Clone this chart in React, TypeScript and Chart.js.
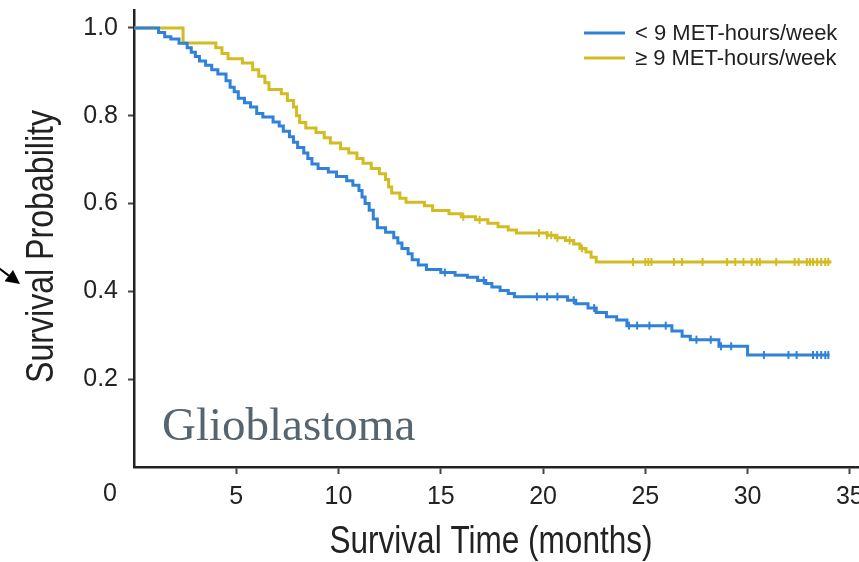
import React, { useEffect, useRef } from 'react';
import { Chart, registerables } from 'chart.js';

Chart.register(...registerables);

// ---- data ----
const xTicks = [0, 5, 10, 15, 20, 25, 30, 35];
const yTicks = [0.2, 0.4, 0.6, 0.8, 1.0];
const seriesLabels = ['< 9 MET-hours/week', '\u2265 9 MET-hours/week'];
const xTitle = 'Survival Time (months)';
const yTitle = 'Survival Probability';
const panelLabel = 'Glioblastoma';

// < 9 MET-hours/week (blue): event times (months) and survival after each step
const lowTimes = [0, 1.2, 1.5, 1.8, 2.2, 2.6, 2.8, 3.0, 3.2, 3.5, 3.8, 4.1, 4.5, 4.7, 4.9, 5.1, 5.4, 5.7, 6.0, 6.3, 6.8, 7.1, 7.3, 7.6, 7.8, 8.0, 8.3, 8.5, 8.7, 9.0, 9.5, 9.9, 10.4, 10.7, 11.0, 11.15, 11.3, 11.5, 11.7, 11.9, 12.3, 12.7, 12.9, 13.1, 13.4, 13.6, 13.9, 14.3, 15.0, 15.7, 16.3, 16.8, 17.2, 17.5, 17.9, 18.3, 18.6, 21.2, 21.6, 22.2, 22.6, 23.1, 23.6, 24.1, 26.3, 26.8, 27.2, 28.6, 30.0, 34.0];
const lowSurv = [1.0, 0.99, 0.98, 0.975, 0.965, 0.955, 0.945, 0.935, 0.925, 0.915, 0.905, 0.895, 0.88, 0.865, 0.855, 0.84, 0.83, 0.82, 0.805, 0.797, 0.786, 0.777, 0.765, 0.752, 0.74, 0.728, 0.715, 0.703, 0.69, 0.68, 0.672, 0.662, 0.652, 0.642, 0.63, 0.615, 0.6, 0.585, 0.565, 0.545, 0.535, 0.522, 0.51, 0.498, 0.486, 0.472, 0.46, 0.45, 0.443, 0.437, 0.432, 0.425, 0.418, 0.41, 0.402, 0.395, 0.388, 0.38, 0.372, 0.362, 0.352, 0.342, 0.335, 0.322, 0.31, 0.298, 0.29, 0.275, 0.255, 0.255];
const lowCensor = [15.2, 17.1, 19.7, 20.2, 20.7, 21.5, 22.5, 24.2, 24.6, 25.2, 26.0, 27.5, 28.2, 28.7, 29.2, 30.8, 32.0, 32.4, 33.2, 33.4, 33.6, 33.8, 33.95];

// >= 9 MET-hours/week (gold)
const highTimes = [0, 2.4, 4.0, 4.3, 4.6, 5.3, 5.8, 6.1, 6.4, 6.6, 7.2, 7.5, 7.8, 7.95, 8.1, 8.4, 8.9, 9.3, 9.6, 10.1, 10.5, 10.9, 11.2, 11.6, 12.0, 12.3, 12.45, 12.6, 13.0, 13.3, 14.2, 14.6, 15.4, 16.0, 16.7, 17.3, 17.8, 18.3, 18.7, 20.2, 20.6, 21.1, 21.5, 21.8, 22.1, 22.35, 22.6, 34.1];
const highSurv = [1.0, 0.966, 0.955, 0.942, 0.93, 0.92, 0.905, 0.89, 0.875, 0.86, 0.85, 0.835, 0.82, 0.8, 0.785, 0.772, 0.762, 0.75, 0.738, 0.725, 0.715, 0.703, 0.692, 0.68, 0.668, 0.655, 0.638, 0.624, 0.612, 0.603, 0.595, 0.584, 0.577, 0.57, 0.563, 0.555, 0.547, 0.54, 0.533, 0.528, 0.522, 0.516, 0.508, 0.498, 0.49, 0.478, 0.467, 0.467];
const highCensor = [16.1, 16.9, 19.8, 20.2, 20.4, 20.7, 21.3, 21.9, 24.4, 25.0, 25.15, 25.3, 26.4, 26.8, 27.8, 29.0, 29.4, 29.8, 30.2, 30.45, 30.6, 31.4, 32.3, 32.5, 32.9, 33.05, 33.2, 33.4, 33.6, 33.8, 33.95];

const BLUE = '#2f82d8';
const GOLD = '#d2bc22';
const INK = '#222222';
const SANS = '"Liberation Sans", Arial, sans-serif';
const TITLE_SIZE = 38;
const TITLE_SQUEEZE = 0.83; // narrow (condensed) axis-title lettering

function survAt(times: number[], surv: number[], t: number): number {
  let v = surv[0];
  for (let i = 0; i < times.length; i++) {
    if (times[i] <= t) v = surv[i];
  }
  return v;
}

const zeroPadding = (s: any) => {
  s.paddingTop = 0;
  s.paddingBottom = 0;
  s.paddingLeft = 0;
  s.paddingRight = 0;
};

const annotations = {
  id: 'annotations',
  afterDraw(chart: any) {
    const { ctx, chartArea, scales } = chart;
    const xs = scales.x;
    ctx.save();

    // axis titles in condensed lettering
    ctx.fillStyle = INK;
    ctx.font = `${TITLE_SIZE}px ${SANS}`;
    ctx.textAlign = 'center';
    ctx.textBaseline = 'middle';
    ctx.save();
    ctx.translate((chartArea.left + chartArea.right) / 2 - 5, 543);
    ctx.scale(TITLE_SQUEEZE, 1);
    ctx.fillText(xTitle, 0, 0);
    ctx.restore();
    ctx.save();
    ctx.translate(43, (chartArea.top + chartArea.bottom) / 2 + 8);
    ctx.rotate(-Math.PI / 2);
    ctx.scale(0.845, 1);
    ctx.fillText(yTitle, 0, 0);
    ctx.restore();

    // origin "0" label, set off to the left of the corner
    ctx.font = `25px ${SANS}`;
    ctx.fillStyle = INK;
    ctx.textAlign = 'center';
    ctx.textBaseline = 'middle';
    ctx.fillText('0', xs.getPixelForValue(0) - 24, chartArea.bottom + 27);

    // legend
    const items = [
      { label: seriesLabels[0], color: BLUE },
      { label: seriesLabels[1], color: GOLD },
    ];
    items.forEach((it, i) => {
      const y = 33 + i * 25;
      ctx.strokeStyle = it.color;
      ctx.lineWidth = 3;
      ctx.beginPath();
      ctx.moveTo(584, y);
      ctx.lineTo(625, y);
      ctx.stroke();
      ctx.fillStyle = INK;
      ctx.font = `22px ${SANS}`;
      ctx.textAlign = 'left';
      ctx.textBaseline = 'middle';
      ctx.fillText(it.label, 635, y + 1);
    });

    // panel label
    ctx.font = `47px "Liberation Serif", "Times New Roman", serif`;
    ctx.fillStyle = '#566470';
    ctx.textAlign = 'left';
    ctx.textBaseline = 'alphabetic';
    ctx.fillText(panelLabel, 162, 440);

    // arrow at left edge
    const tipX = 20, tipY = 284, fromX = -4, fromY = 266;
    const ang = Math.atan2(tipY - fromY, tipX - fromX);
    const hl = 14, hw = 7;
    const bx = tipX - Math.cos(ang) * hl, by = tipY - Math.sin(ang) * hl;
    ctx.strokeStyle = '#000';
    ctx.fillStyle = '#000';
    ctx.lineWidth = 2;
    ctx.beginPath();
    ctx.moveTo(fromX, fromY);
    ctx.lineTo(bx, by);
    ctx.stroke();
    ctx.beginPath();
    ctx.moveTo(tipX, tipY);
    ctx.lineTo(bx + Math.sin(ang) * hw, by - Math.cos(ang) * hw);
    ctx.lineTo(bx - Math.sin(ang) * hw, by + Math.cos(ang) * hw);
    ctx.closePath();
    ctx.fill();
    ctx.restore();
  },
};

export default function App() {
  const ref = useRef<HTMLCanvasElement>(null);

  useEffect(() => {
    if (!ref.current) return;
    const curve = (times: number[], surv: number[]) => times.map((t, i) => ({ x: t, y: surv[i] }));
    const marks = (cens: number[], times: number[], surv: number[]) => cens.map((t) => ({ x: t, y: survAt(times, surv, t) }));

    const chart = new Chart(ref.current, {
      type: 'scatter',
      data: {
        datasets: [
          {
            label: seriesLabels[0],
            data: curve(lowTimes, lowSurv),
            showLine: true,
            stepped: true,
            borderColor: BLUE,
            backgroundColor: BLUE,
            borderWidth: 3,
            pointRadius: 0,
            fill: false,
          },
          {
            label: seriesLabels[1],
            data: curve(highTimes, highSurv),
            showLine: true,
            stepped: true,
            borderColor: GOLD,
            backgroundColor: GOLD,
            borderWidth: 3,
            pointRadius: 0,
            fill: false,
          },
          {
            label: 'censored-low',
            data: marks(lowCensor, lowTimes, lowSurv),
            showLine: false,
            pointStyle: 'line',
            rotation: 90,
            pointRadius: 4,
            borderColor: BLUE,
            borderWidth: 2,
          },
          {
            label: 'censored-high',
            data: marks(highCensor, highTimes, highSurv),
            showLine: false,
            pointStyle: 'line',
            rotation: 90,
            pointRadius: 4,
            borderColor: GOLD,
            borderWidth: 2,
          },
        ],
      },
      options: {
        animation: false,
        responsive: false,
        devicePixelRatio: 1,
        layout: { autoPadding: false, padding: { left: 0, right: 1, top: 10, bottom: 0 } },
        plugins: { legend: { display: false }, tooltip: { enabled: false } },
        events: [],
        scales: {
          x: {
            type: 'linear',
            min: 0,
            max: 35.4,
            afterBuildTicks: (s: any) => { s.ticks = xTicks.map((v) => ({ value: v })); },
            afterFit: (s: any) => { s.height = 95; zeroPadding(s); },
            ticks: {
              autoSkip: false,
              maxRotation: 0,
              padding: 8,
              color: INK,
              font: { family: SANS, size: 25 },
              callback: (v: any) => (v === 0 ? '' : String(v)),
            },
            grid: {
              display: true,
              drawOnChartArea: false,
              drawTicks: true,
              tickLength: 7,
              tickWidth: 2,
              tickColor: (c: any) => (c.tick && c.tick.value === 0 ? 'rgba(0,0,0,0)' : '#444'),
            },
            border: { display: true, color: INK, width: 2.5 },
            title: { display: false },
          },
          y: {
            type: 'linear',
            min: 0,
            max: 1.041,
            afterBuildTicks: (s: any) => { s.ticks = yTicks.map((v) => ({ value: v })); },
            afterFit: (s: any) => { s.width = 134; zeroPadding(s); },
            ticks: {
              padding: 10,
              color: INK,
              font: { family: SANS, size: 25 },
              callback: (v: any) => Number(v).toFixed(1),
            },
            grid: {
              display: true,
              drawOnChartArea: false,
              drawTicks: true,
              tickLength: 6,
              tickWidth: 2,
              tickColor: '#444',
            },
            border: { display: true, color: INK, width: 2.5 },
            title: { display: false },
          },
        },
      },
      plugins: [annotations],
    } as any);

    return () => chart.destroy();
  }, []);

  return (
    <div style={{ position: 'absolute', left: 0, top: 0, width: 859, height: 562, background: '#fff' }}>
      <canvas ref={ref} width={859} height={562} style={{ display: 'block', width: 859, height: 562 }} />
    </div>
  );
}
